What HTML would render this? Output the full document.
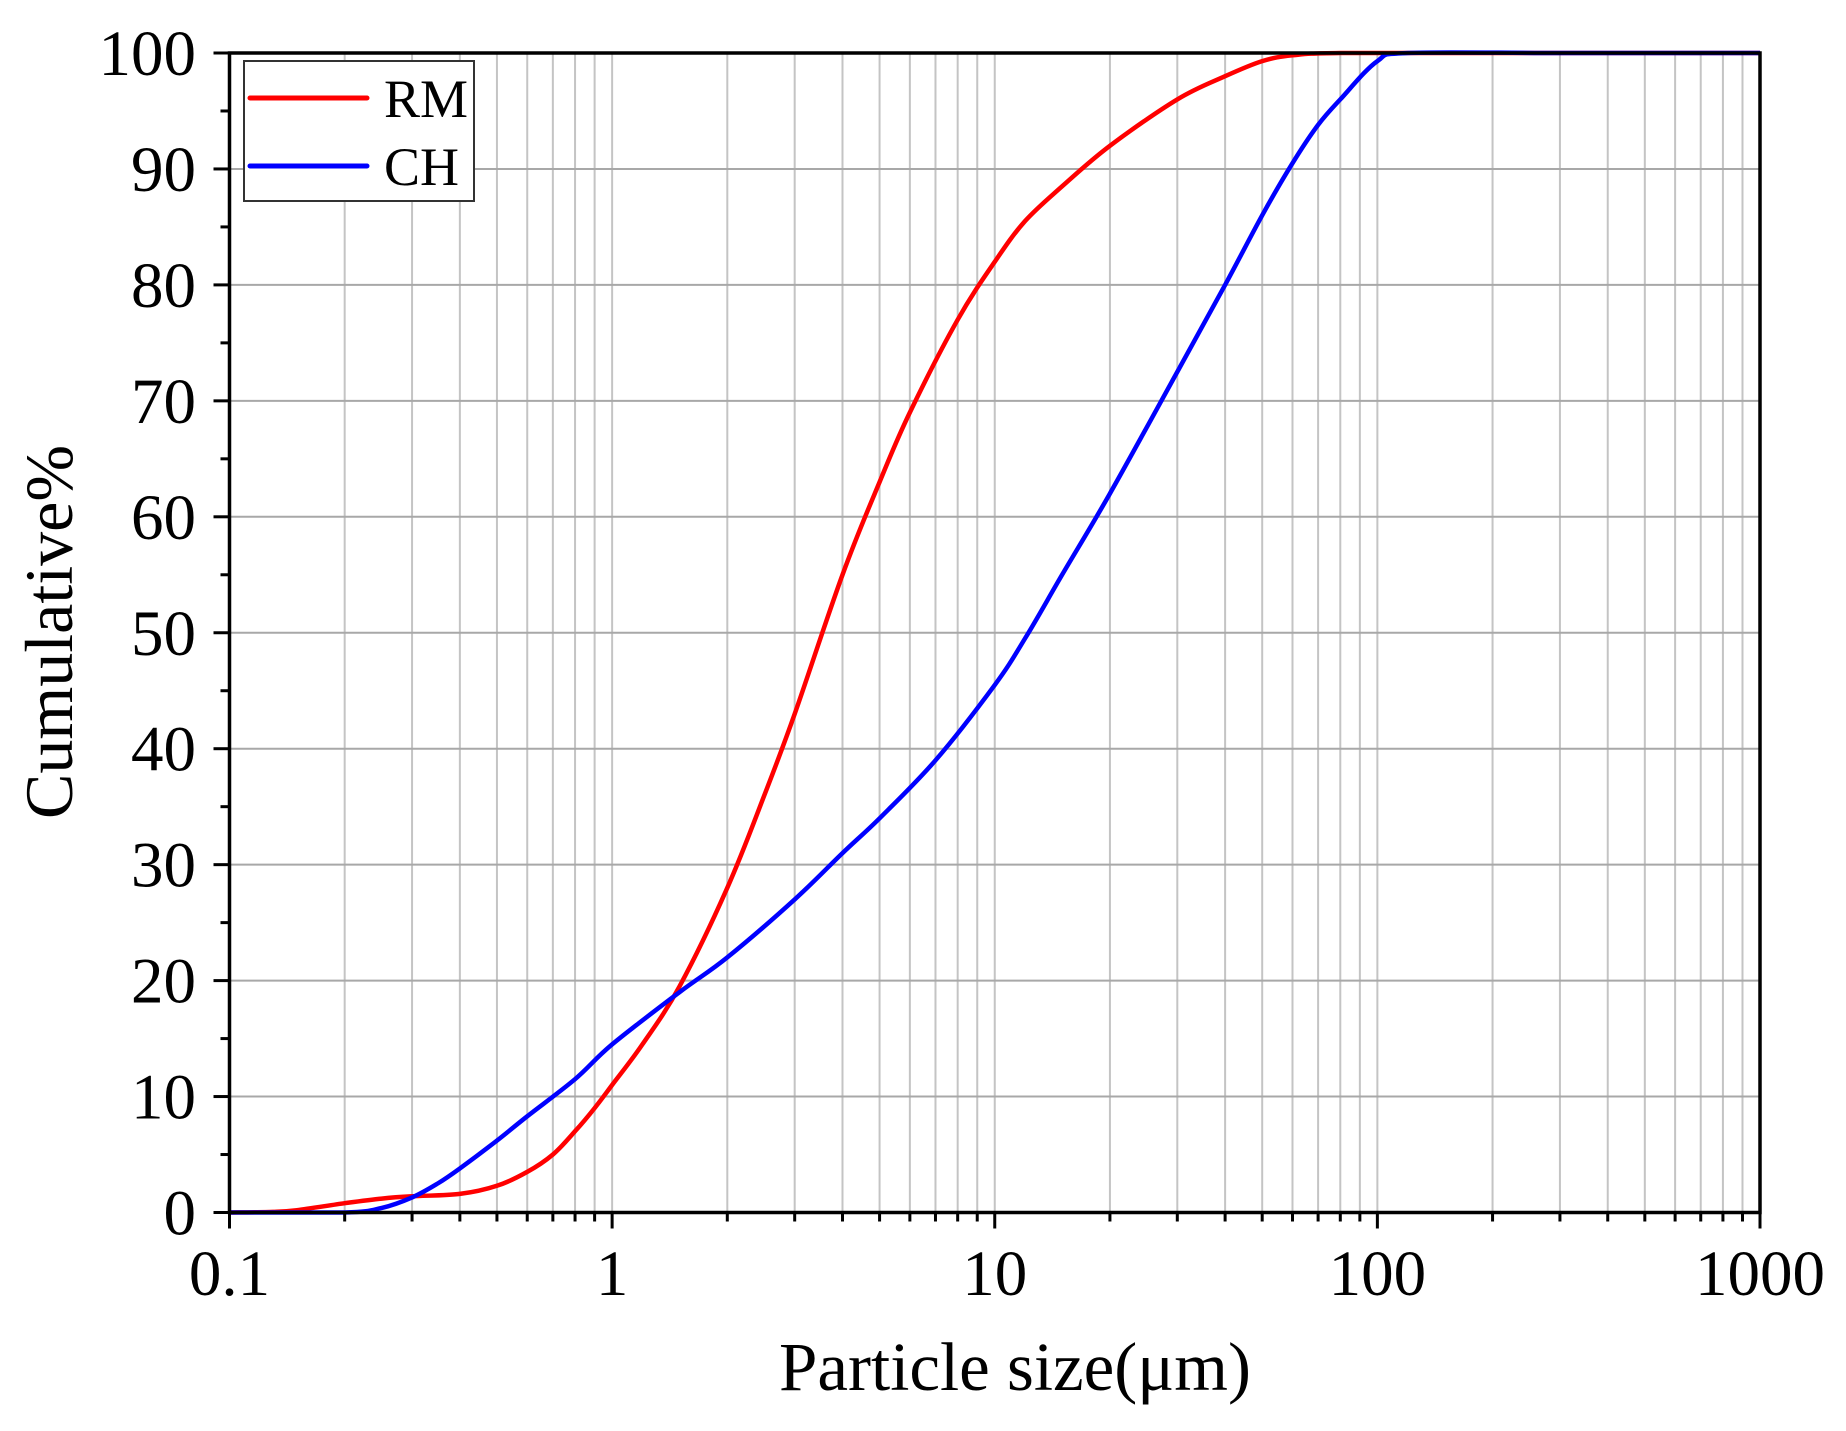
<!DOCTYPE html>
<html><head><meta charset="utf-8"><style>
html,body{margin:0;padding:0;background:#fff;}
svg{display:block;font-family:"Liberation Serif",serif;}
</style></head><body>
<svg id="s" width="1846" height="1431" xmlns="http://www.w3.org/2000/svg"></svg>
<script>
const s=document.getElementById('s');
const L=229.5,R=1760,T=53,B=1212.5;
const X=v=>L+(Math.log10(v)+1)*(R-L)/4;
const Y=p=>B-p*(B-T)/100;
let h='';
for(let d=-1;d<3;d++)for(let m=1;m<=9;m++){const v=m*Math.pow(10,d);if(v<=0.1)continue;const x=X(v);
h+=`<line x1="${x}" y1="${T}" x2="${x}" y2="${B}" stroke="#c4c4c4" stroke-width="2"/>`;}
for(let p=10;p<100;p+=10)h+=`<line x1="${L}" y1="${Y(p)}" x2="${R}" y2="${Y(p)}" stroke="#a8a8a8" stroke-width="2"/>`;
function path(pts,c){
 const P=pts.map(q=>[X(q[0]),Y(q[1])]);
 let d='M'+P[0][0].toFixed(1)+','+P[0][1].toFixed(1);
 for(let i=0;i<P.length-1;i++){const p0=P[Math.max(0,i-1)],p1=P[i],p2=P[i+1],p3=P[Math.min(P.length-1,i+2)];
  const c1=[p1[0]+(p2[0]-p0[0])/6,p1[1]+(p2[1]-p0[1])/6],c2=[p2[0]-(p3[0]-p1[0])/6,p2[1]-(p3[1]-p1[1])/6];
  d+=`C${c1[0].toFixed(1)},${Math.min(c1[1],B).toFixed(1)} ${c2[0].toFixed(1)},${Math.max(Math.min(c2[1],B),T).toFixed(1)} ${p2[0].toFixed(1)},${p2[1].toFixed(1)}`;}
 return `<path d="${d}" fill="none" stroke="${c}" stroke-width="4.5" stroke-linejoin="round"/>`;}
const rm=[[0.1,0],[0.13,0.05],[0.15,0.2],[0.2,0.8],[0.25,1.2],[0.3,1.4],[0.4,1.6],[0.5,2.3],[0.6,3.5],[0.7,5],[0.8,7],[0.9,9],[1,11],[1.2,14.5],[1.5,19.5],[2,28],[2.5,36],[3,43],[4,55],[5,63],[6,69],[8,77],[10,82],[12,85.5],[15,88.5],[20,92],[30,96],[40,98],[50,99.3],[60,99.8],[80,100],[200,100],[1000,100]];
const ch=[[0.1,0],[0.2,0],[0.25,0.4],[0.3,1.3],[0.35,2.5],[0.4,3.8],[0.5,6.2],[0.6,8.3],[0.8,11.5],[1,14.5],[1.5,19],[2,22],[3,27],[4,31],[5,34],[7,39],[10,45.5],[12,49.5],[15,55],[20,62],[30,72.5],[40,80],[50,86],[60,90.5],[70,93.8],[80,96],[100,99.3],[120,100],[300,100],[1000,100]];
h+=path(rm,'#ff0000')+path(ch,'#0000ff');
h+=`<rect x="${L}" y="${T}" width="${R-L}" height="${B-T}" fill="none" stroke="#000" stroke-width="3.5"/>`;
for(let d=-1;d<3;d++)for(let m=1;m<=9;m++){const v=m*Math.pow(10,d);const x=X(v);const len=m==1?16:9;
h+=`<line x1="${x}" y1="${B}" x2="${x}" y2="${B+len}" stroke="#000" stroke-width="3"/>`;}
h+=`<line x1="${R}" y1="${B}" x2="${R}" y2="${B+16}" stroke="#000" stroke-width="3"/>`;
['0.1','1','10','100','1000'].forEach((t,i)=>{h+=`<text x="${L+i*(R-L)/4}" y="1295" font-size="65" text-anchor="middle">${t}</text>`;});
for(let p=0;p<=100;p+=5){const len=p%10==0?16:9;h+=`<line x1="${L-len}" y1="${Y(p)}" x2="${L}" y2="${Y(p)}" stroke="#000" stroke-width="3"/>`;
if(p%10==0)h+=`<text x="196" y="${Y(p)+22}" font-size="65" text-anchor="end">${p}</text>`;}
h+=`<text x="1015" y="1390" font-size="69" text-anchor="middle">Particle size(μm)</text>`;
h+=`<text transform="translate(72,632) rotate(-90)" font-size="68" text-anchor="middle">Cumulative%</text>`;
h+=`<rect x="244" y="61" width="230" height="140" fill="#fff" stroke="#333" stroke-width="2"/>`;
h+=`<line x1="250" y1="98" x2="367" y2="98" stroke="#ff0000" stroke-width="5" stroke-linecap="round"/>`;
h+=`<line x1="250" y1="166" x2="367" y2="166" stroke="#0000ff" stroke-width="5" stroke-linecap="round"/>`;
h+=`<text x="384" y="117" font-size="54">RM</text><text x="384" y="185" font-size="54">CH</text>`;
s.innerHTML=h;
</script>
</body></html>
